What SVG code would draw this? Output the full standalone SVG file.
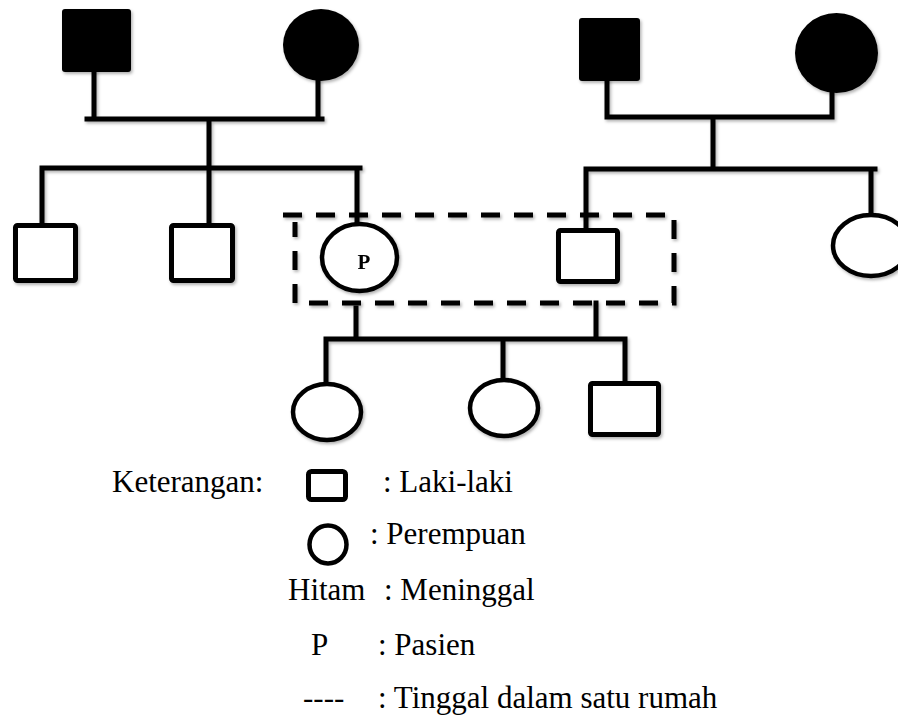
<svg xmlns="http://www.w3.org/2000/svg" width="898" height="717" viewBox="0 0 898 717">
<defs>
<filter id="sh" x="-10%" y="-10%" width="130%" height="130%">
<feDropShadow dx="1.5" dy="2" stdDeviation="1.4" flood-color="#000" flood-opacity="0.3"/>
</filter>
</defs>
<style>
.ln{stroke:#000;stroke-width:5;fill:none;stroke-linecap:square}
.m{fill:#fff;stroke:#000;stroke-width:5}
.f{fill:#fff;stroke:#000;stroke-width:4.5}
.dead{fill:#000;stroke:none}
.dash{fill:none;stroke:#000;stroke-width:5;stroke-dasharray:19 14}
.t{font-family:"Liberation Serif","Times New Roman",serif;font-size:31px;fill:#000}
.pt{font-family:"Liberation Serif","Times New Roman",serif;font-size:21px;font-weight:bold;fill:#000}
</style>
<rect width="898" height="717" fill="#fff"/>
<g id="connectors" filter="url(#sh)">
<path class="ln" d="M94,72V119M318,81V119M87,119H322M209,119V168M43,168H360M42,168V223M209,168V223M357,168V222"/>
<path class="ln" d="M607,81V117M832,93V117M607,117H832M713,117V169M586,169H875M586,169V228M871,169V213"/>
<path class="ln" d="M356,308V339M596,303V339M326,339H624M326,339V382M503,339V379M625,339V382"/>
</g>
<g id="household" filter="url(#sh)">
<path class="dash" d="M283,215H674V303H295V222"/>
</g>
<g id="gf1" filter="url(#sh)"><rect class="dead" x="62" y="9" width="69" height="63" rx="3"/></g>
<g id="gm1" filter="url(#sh)"><ellipse class="dead" cx="321" cy="45" rx="38" ry="36"/></g>
<g id="gf2" filter="url(#sh)"><rect class="dead" x="579" y="18" width="61" height="63" rx="3"/></g>
<g id="gm2" filter="url(#sh)"><ellipse class="dead" cx="836.5" cy="53" rx="41.5" ry="40"/></g>
<g id="uncle1" filter="url(#sh)"><rect class="m" x="15.5" y="225.5" width="60" height="55" rx="2"/></g>
<g id="uncle2" filter="url(#sh)"><rect class="m" x="171.5" y="225.5" width="61" height="55" rx="2"/></g>
<g id="patient" filter="url(#sh)"><ellipse class="f" cx="359.5" cy="257.5" rx="37.5" ry="33.5"/><text class="pt" x="364" y="269" text-anchor="middle">P</text></g>
<g id="husband" filter="url(#sh)"><rect class="m" x="558.5" y="230.5" width="59" height="51" rx="2"/></g>
<g id="aunt" filter="url(#sh)"><ellipse class="f" cx="871" cy="245.5" rx="38" ry="30.5"/></g>
<g id="child1" filter="url(#sh)"><ellipse class="f" cx="327" cy="412" rx="34" ry="28"/></g>
<g id="child2" filter="url(#sh)"><ellipse class="f" cx="504" cy="408" rx="34" ry="28"/></g>
<g id="child3" filter="url(#sh)"><rect class="m" x="590.5" y="383.5" width="68" height="51" rx="2"/></g>
<g id="legend">
<text class="t" x="112" y="492">Keterangan:</text>
<rect class="m" x="308.5" y="471.5" width="37" height="28" rx="3"/>
<text class="t" x="383" y="492">: Laki-laki</text>
<ellipse class="f" cx="328" cy="544.5" rx="18.5" ry="19"/>
<text class="t" x="370" y="544">: Perempuan</text>
<text class="t" x="288" y="600">Hitam</text>
<text class="t" x="384" y="600">: Meninggal</text>
<text class="t" x="311" y="655">P</text>
<text class="t" x="378" y="655">: Pasien</text>
<text class="t" x="303" y="708">----</text>
<text class="t" x="378" y="708">: Tinggal dalam satu rumah</text>
</g>
</svg>
